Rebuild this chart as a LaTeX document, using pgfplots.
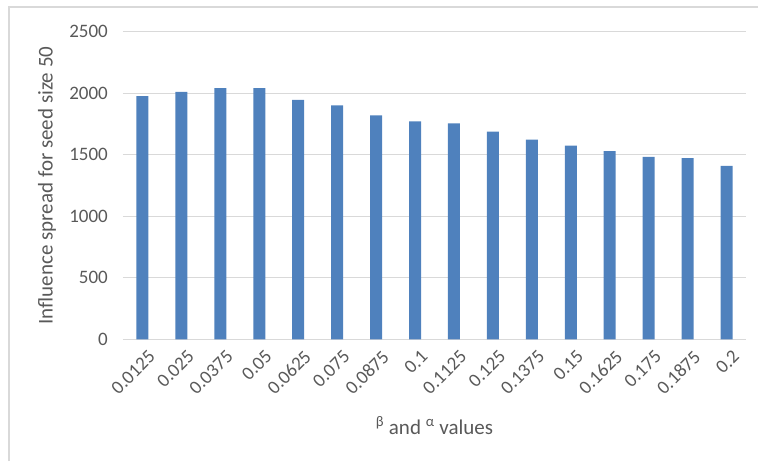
\documentclass[border=0pt]{standalone}
\usepackage{pgfplots}
\pgfplotsset{compat=1.18}
\usepackage{fontspec}
\setmainfont{Carlito}
\definecolor{barblue}{HTML}{4F81BD}
\definecolor{gridgray}{HTML}{D9D9D9}
\definecolor{textgray}{HTML}{595959}
\begin{document}
\begin{tikzpicture}
\useasboundingbox (-123pt,-121.7pt) rectangle (635pt,339.3pt);
\draw[gridgray, line width=1.5pt] (-114pt,-121.7pt) -- (-114pt,332.3pt) -- (635pt,332.3pt);
\begin{axis}[
    at={(0,0)}, anchor=south west,
    scale only axis,
    width=623pt, height=307.6pt,
    ybar, bar width=12pt,
    xmin=-0.5, xmax=15.5,
    ymin=0, ymax=2500,
    ytick={0,500,1000,1500,2000,2500},
    xtick=data,
    xticklabels={0.0125,0.025,0.0375,0.05,0.0625,0.075,0.0875,0.1,0.1125,0.125,0.1375,0.15,0.1625,0.175,0.1875,0.2},
    axis line style={draw=none},
    tick style={draw=none},
    ymajorgrids, grid style={gridgray, line width=1pt},
    /pgf/number format/assume math mode=true,
    /pgf/number format/1000 sep={},
    tick label style={font=\fontsize{19}{21}\selectfont, text=textgray},
    xticklabel style={xshift=5pt, yshift=-4pt, rotate=45, anchor=north east, inner sep=1pt},
    yticklabel style={inner sep=0pt, xshift=-15pt},
    label style={font=\fontsize{21}{24}\selectfont, text=textgray},
    ylabel={Influence spread for seed size 50},
    ylabel style={at={(axis description cs:-0.122,0.5)}, anchor=center},
    xlabel={\textsuperscript{β} and \textsuperscript{α} values},
    xlabel style={at={(axis description cs:0.5,0)}, anchor=center, yshift=-86pt},
]
\addplot[fill=barblue, draw=none] coordinates {
(0,1977) (1,2010) (2,2042) (3,2042) (4,1945) (5,1902) (6,1820) (7,1772)
(8,1755) (9,1687) (10,1622) (11,1574) (12,1530) (13,1482) (14,1473) (15,1409)
};
\end{axis}
\end{tikzpicture}
\end{document}
